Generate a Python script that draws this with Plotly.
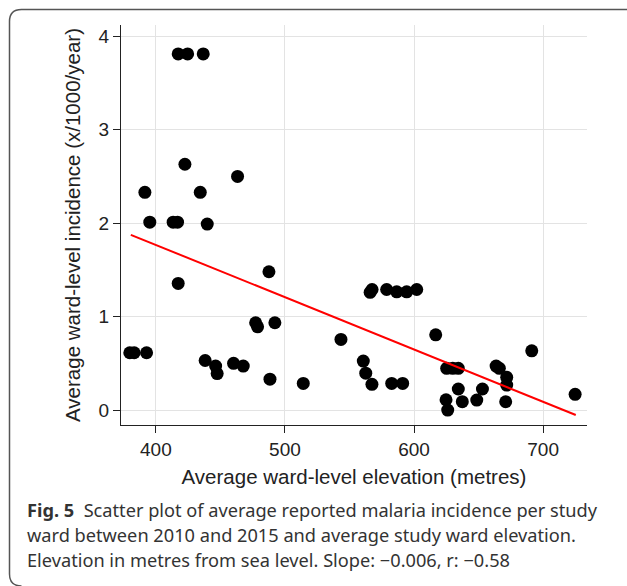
import plotly.graph_objects as go

# Average ward elevation (m) and average reported malaria incidence (x/1000/year)
elevation = [417.3, 424.6, 436.7, 422.5, 463.3, 391.5, 434.4, 395.3, 413.4, 416.8,
             439.8, 417.3, 487.6, 477.3, 478.8, 492.2, 379.8, 383.2, 392.8, 438.2,
             446.3, 447.5, 460.2, 467.7, 488.4, 514.2, 543.4, 560.7, 562.6, 567.4,
             582.7, 591.2, 566.0, 567.5, 578.8, 586.6, 594.3, 602.1, 616.8, 625.3,
             630.0, 634.3, 634.3, 624.8, 626.1, 637.4, 648.6, 653.0, 663.6, 666.1,
             671.8, 671.8, 671.0, 691.2, 724.8]
incidence = [3.81, 3.81, 3.81, 2.63, 2.50, 2.33, 2.33, 2.01, 2.01, 2.01,
             1.99, 1.355, 1.48, 0.934, 0.89, 0.934, 0.613, 0.613, 0.613, 0.53,
             0.47, 0.39, 0.50, 0.47, 0.33, 0.285, 0.756, 0.524, 0.395, 0.275,
             0.285, 0.285, 1.26, 1.29, 1.29, 1.265, 1.265, 1.29, 0.805, 0.446,
             0.446, 0.446, 0.225, 0.11, 0.0, 0.09, 0.107, 0.225, 0.47, 0.446,
             0.35, 0.267, 0.089, 0.634, 0.168]

# Fitted regression line end points
fit_x = [380.6, 725.3]
fit_y = [1.875, -0.053]

x_ticks = [400, 500, 600, 700]
y_ticks = [0, 1, 2, 3, 4]

x_title = "Average ward-level elevation (metres)"
y_title = "Average ward-level incidence (x/1000/year)"
caption_lines = [
    "<b>Fig. 5</b>  Scatter plot of average reported malaria incidence per study",
    "ward between 2010 and 2015 and average study ward elevation.",
    "Elevation in metres from sea level. Slope: \u22120.006, r: \u22120.58",
]

W, H = 627, 586
L, R, T, B = 121, 40, 25, 161
PW, PH = W - L - R, H - T - B


def px(x):
    return (x - L) / PW


def py(y):
    return (H - B - y) / PH


fig = go.Figure()
fig.add_trace(go.Scatter(x=elevation, y=incidence, mode="markers",
                         marker=dict(color="black", size=13, line=dict(width=0)),
                         showlegend=False, cliponaxis=False))
fig.add_trace(go.Scatter(x=fit_x, y=fit_y, mode="lines",
                         line=dict(color="#ff0000", width=2), showlegend=False))

axis_common = dict(showline=True, linecolor="#222", linewidth=1, ticks="outside",
                   ticklen=7, tickcolor="#222", showgrid=True, gridcolor="#e3e3e3",
                   gridwidth=1, zeroline=False,
                   tickfont=dict(family="Liberation Sans, Arial", size=19, color="#222"),
                   title_font=dict(family="Liberation Sans, Arial", size=20.5, color="#222"))

fig.update_xaxes(range=[373, 734], tickvals=x_ticks, title_text=x_title,
                 title_standoff=10, **axis_common)
fig.update_yaxes(range=[-0.16, 4.12], tickvals=y_ticks, title_text=y_title,
                 title_standoff=12, **axis_common)

frame_path = (f"M {px(640)} {py(9.5)} L {px(21.5)} {py(9.5)} "
              f"Q {px(9.5)} {py(9.5)} {px(9.5)} {py(21.5)} "
              f"L {px(9.5)} {py(574)} Q {px(9.5)} {py(586)} {px(21.5)} {py(586)}")
fig.add_shape(type="path", path=frame_path, xref="paper", yref="paper",
              line=dict(color="#555", width=1.5))

for i, line in enumerate(caption_lines):
    fig.add_annotation(text=line, xref="paper", yref="paper",
                       x=px(25), y=py(510 + 25 * i), xanchor="left", yanchor="middle",
                       showarrow=False,
                       font=dict(family="Noto Sans", size=18.2, color="#333"))

fig.update_layout(width=W, height=H, margin=dict(l=L, r=R, t=T, b=B),
                  plot_bgcolor="white", paper_bgcolor="white")

fig.write_html("out.html", config={"displayModeBar": False},
               post_script="document.body.style.margin='0';")
